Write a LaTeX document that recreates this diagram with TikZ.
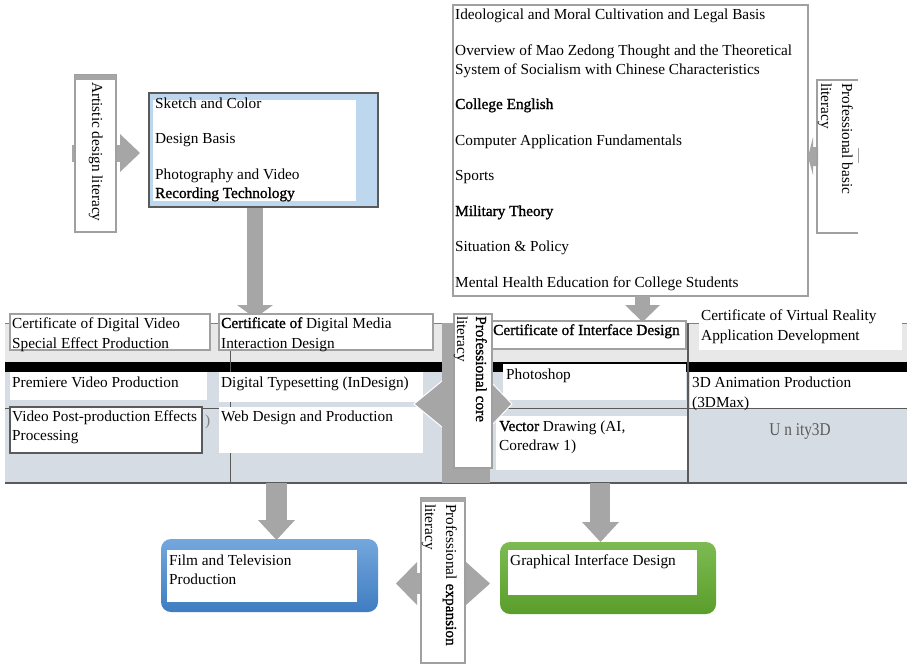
\documentclass[tikz,border=0pt]{standalone}
\usepackage{fontspec}
\setmainfont{Liberation Serif}
\newfontfamily\hv[FakeBold=1.2]{Liberation Serif}
\newcommand\fs{\fontsize{15.3}{19}\selectfont}
\definecolor{arrgray}{HTML}{A6A6A6}
\definecolor{boxgray}{HTML}{A0A0A0}
\definecolor{stripgray}{HTML}{E8E8E8}
\definecolor{tblue}{HTML}{D6DCE4}
\definecolor{lblue}{HTML}{BDD7EE}
\definecolor{dgray}{HTML}{5A5A5A}
\definecolor{bltop}{HTML}{74A7DD}
\definecolor{blbot}{HTML}{3F7DC1}
\definecolor{grtop}{HTML}{7DBB52}
\definecolor{grbot}{HTML}{5A9E2B}
\begin{document}
\begin{tikzpicture}[x=1pt,y=-1pt,
  txt/.style={anchor=base west, inner sep=0pt, font=\fs},
  vtxt/.style={txt, rotate=-90},
  rbox/.style={anchor=north west, inner sep=0pt, outer sep=0pt},
  gbox/.style={rbox, draw=boxgray, line width=1.2pt, fill=white},
  wcell/.style={rbox, fill=white},
  arr/.style={fill=arrgray, draw=none}]
\useasboundingbox (0,0) rectangle (907,665);
\fill[white] (0,0) rectangle (907,665);

% ---------- Artistic design literacy ----------
\fill[arrgray] (72,145) rectangle (76,162);
\fill[arr] (116,145) rectangle (122,162);
\fill[arr] (120,134) -- (140,153) -- (120,172) -- cycle;
\node[gbox, minimum width=41, minimum height=157] (art) at (75,75) {};
\fill[arrgray] (75,75) rectangle (116,80);
\node[vtxt] (artT) at (92,82) {Artistic design literacy};

% ---------- Blue box ----------
\node[rbox, draw=dgray, line width=1.5pt, fill=lblue, minimum width=229, minimum height=114] (blue) at (149,93) {};
\node[wcell, minimum width=203, minimum height=101] (bluein) at (153,100) {};
\node[txt] (b1) at (155,108) {Sketch and Color};
\node[txt] (b2) at (155,143) {Design Basis};
\node[txt] (b3) at (155,179) {Photography and Video};
\node[txt, font=\fs\hv] (b4) at (155,198) {Recording Technology};

% ---------- Top right box ----------
\node[gbox, line width=1.5pt, minimum width=355, minimum height=291] (basic) at (453,5) {};
\node[txt] (c1) at (455,19) {Ideological and Moral Cultivation and Legal Basis};
\node[txt] (c2) at (455,55) {Overview of Mao Zedong Thought and the Theoretical};
\node[txt] (c3) at (455,74) {System of Socialism with Chinese Characteristics};
\node[txt, font=\fs\hv] (c4) at (455,109) {College English};
\node[txt] (c5) at (455,145) {Computer Application Fundamentals};
\node[txt] (c6) at (455,180) {Sports};
\node[txt, font=\fs\hv] (c7) at (455,216) {Military Theory};
\node[txt] (c8) at (455,251) {Situation \& Policy};
\node[txt] (c9) at (455,287) {Mental Health Education for College Students};

% ---------- Professional basic literacy ----------
\fill[arr] (818,147) -- (813,147) -- (813,137) -- (808,157) -- (813,175) -- (813,166) -- (818,166) -- cycle;
\draw[boxgray, line width=2pt] (858,80) -- (817,80) -- (817,233) -- (858,233);
\draw[boxgray, line width=1pt] (858,148) -- (858,163);
\node[vtxt] (pb1) at (842,83) {Professional basic};
\node[vtxt] (pb2) at (821,83) {literacy};

% ---------- Table ----------
\fill[stripgray] (5,323) rectangle (907,362);
\draw[gray, line width=0.8pt] (5,323) -- (907,323);
\fill[black] (5,362) rectangle (907,372);
\fill[tblue] (5,372) rectangle (907,483);
\draw[dgray, line width=1.5pt] (5,483) -- (907,483);
\draw[dgray, line width=1pt] (5,408) -- (907,408);
\draw[dgray, line width=1pt] (230,350) -- (230,483);
\draw[dgray, line width=1.2pt] (688,323) -- (688,483);

% arrows into table
\fill[arr] (247,208) rectangle (263,305);
\fill[arr] (237,305) -- (255,318) -- (273,305) -- cycle;
\fill[arr] (635,296) rectangle (650,305);
\fill[arr] (625,305) -- (642.5,322) -- (660,305) -- cycle;

% certificates
\node[gbox, minimum width=200, minimum height=36] (cert1) at (10,314) {};
\node[txt] (ct1a) at (12,328) {Certificate of Digital Video};
\node[txt] (ct1b) at (12,348) {Special Effect Production};
\node[gbox, minimum width=214, minimum height=36] (cert2) at (219,314) {};
\node[txt] (ct2a) at (221,328) {{\hv Certificate of} Digital Media};
\node[txt] (ct2b) at (221,348) {Interaction Design};
\node[gbox, minimum width=195, minimum height=28] (cert3) at (491,321) {};
\node[txt, font=\fs\hv] (ct3) at (493,335) {Certificate of Interface Design};
\node[wcell, minimum width=203, minimum height=43] (cert4) at (699,307) {};
\node[txt] (ct4a) at (701,320) {Certificate of Virtual Reality};
\node[txt] (ct4b) at (701,340) {Application Development};

% cells
\node[wcell, minimum width=197, minimum height=28] (cPre) at (10,372) {};
\node[txt] (tPre) at (12,387) {Premiere Video Production};
\node[wcell, minimum width=204, minimum height=30] (cTyp) at (219,372) {};
\node[txt] (tTyp) at (221,387) {Digital Typesetting (InDesign)};
\node[wcell, minimum width=183, minimum height=36] (cPs) at (503,364) {};
\node[txt] (tPs) at (506,379) {Photoshop};
\node[wcell, minimum width=217, minimum height=36] (c3d) at (690,372) {};
\node[txt] (t3da) at (692,387) {3D Animation Production};
\node[txt] (t3db) at (692,407) {(3DMax)};
\node[rbox, draw=dgray, line width=1.2pt, fill=white, minimum width=192, minimum height=46] (cPost) at (10,407) {};
\node[txt] (tPosta) at (12,421) {Video Post-production Effects};
\node[txt] (tPostb) at (12,440) {Processing};
\node[txt, text=gray] (paren) at (205,425) {)};
\node[wcell, minimum width=204, minimum height=46] (cWeb) at (219,407) {};
\node[txt] (tWeb) at (221,421) {Web Design and Production};
\node[wcell, minimum width=191, minimum height=54] (cVec) at (496,416) {};
\node[txt] (tVeca) at (499,431) {{\hv Vector} Drawing (AI,};
\node[txt] (tVecb) at (499,450) {Coredraw 1)};
\node[anchor=base, inner sep=0pt, text=dgray, font=\fontsize{18}{20}\selectfont] (unity) at (800,435) {\scalebox{0.85}[1]{U n ity3D}};

% ---------- Professional core literacy ----------
\fill[arr] (442,323) rectangle (490,483);
\filldraw[fill=arrgray, draw=white, line width=1pt] (442,381) -- (414,404) -- (442,427);
\filldraw[fill=arrgray, draw=white, line width=1pt] (490,381) -- (512,404) -- (490,427);
\fill[arr] (441,382) rectangle (491,426);
\node[gbox, minimum width=38, minimum height=154] (core) at (454,314) {};
\node[vtxt, font=\fs\hv] (co1) at (476,316) {Professional core};
\node[vtxt] (co2) at (457,316) {literacy};

% ---------- arrows to outcomes ----------
\fill[arr] (266,483) rectangle (287,521);
\fill[arr] (258,520) -- (276.5,540) -- (295,520) -- cycle;
\fill[arr] (590,483) rectangle (610,523);
\fill[arr] (582,522) -- (600.5,542) -- (619,522) -- cycle;

% ---------- outcome boxes ----------
\node[rbox, rounded corners=10pt, top color=bltop, bottom color=blbot, minimum width=217, minimum height=73] (film) at (161,539) {};
\node[wcell, minimum width=190, minimum height=52] (filmin) at (167,550) {};
\node[txt] (tf1) at (169,565) {Film and Television};
\node[txt] (tf2) at (169,584) {Production};

\node[rbox, rounded corners=10pt, top color=grtop, bottom color=grbot, minimum width=216, minimum height=72] (gid) at (500,542) {};
\node[wcell, minimum width=189, minimum height=45] (gidin) at (508,550) {};
\node[txt] (tg) at (510,565) {Graphical Interface Design};

% ---------- Professional expansion literacy ----------
\fill[arr] (417,573) rectangle (422,594);
\fill[arr] (417,562) -- (396,583.5) -- (417,605) -- cycle;
\fill[arr] (464,573) rectangle (468,594);
\fill[arr] (466,562) -- (490,583.5) -- (466,605) -- cycle;
\node[gbox, line width=1.5pt, minimum width=44, minimum height=165] (exp) at (421,498) {};
\fill[arrgray] (421,498) rectangle (465,502);
\node[vtxt] (ex1) at (446,504) {Professional {\hv expansion}};
\node[vtxt] (ex2) at (425,504) {literacy};
\end{tikzpicture}
\end{document}
